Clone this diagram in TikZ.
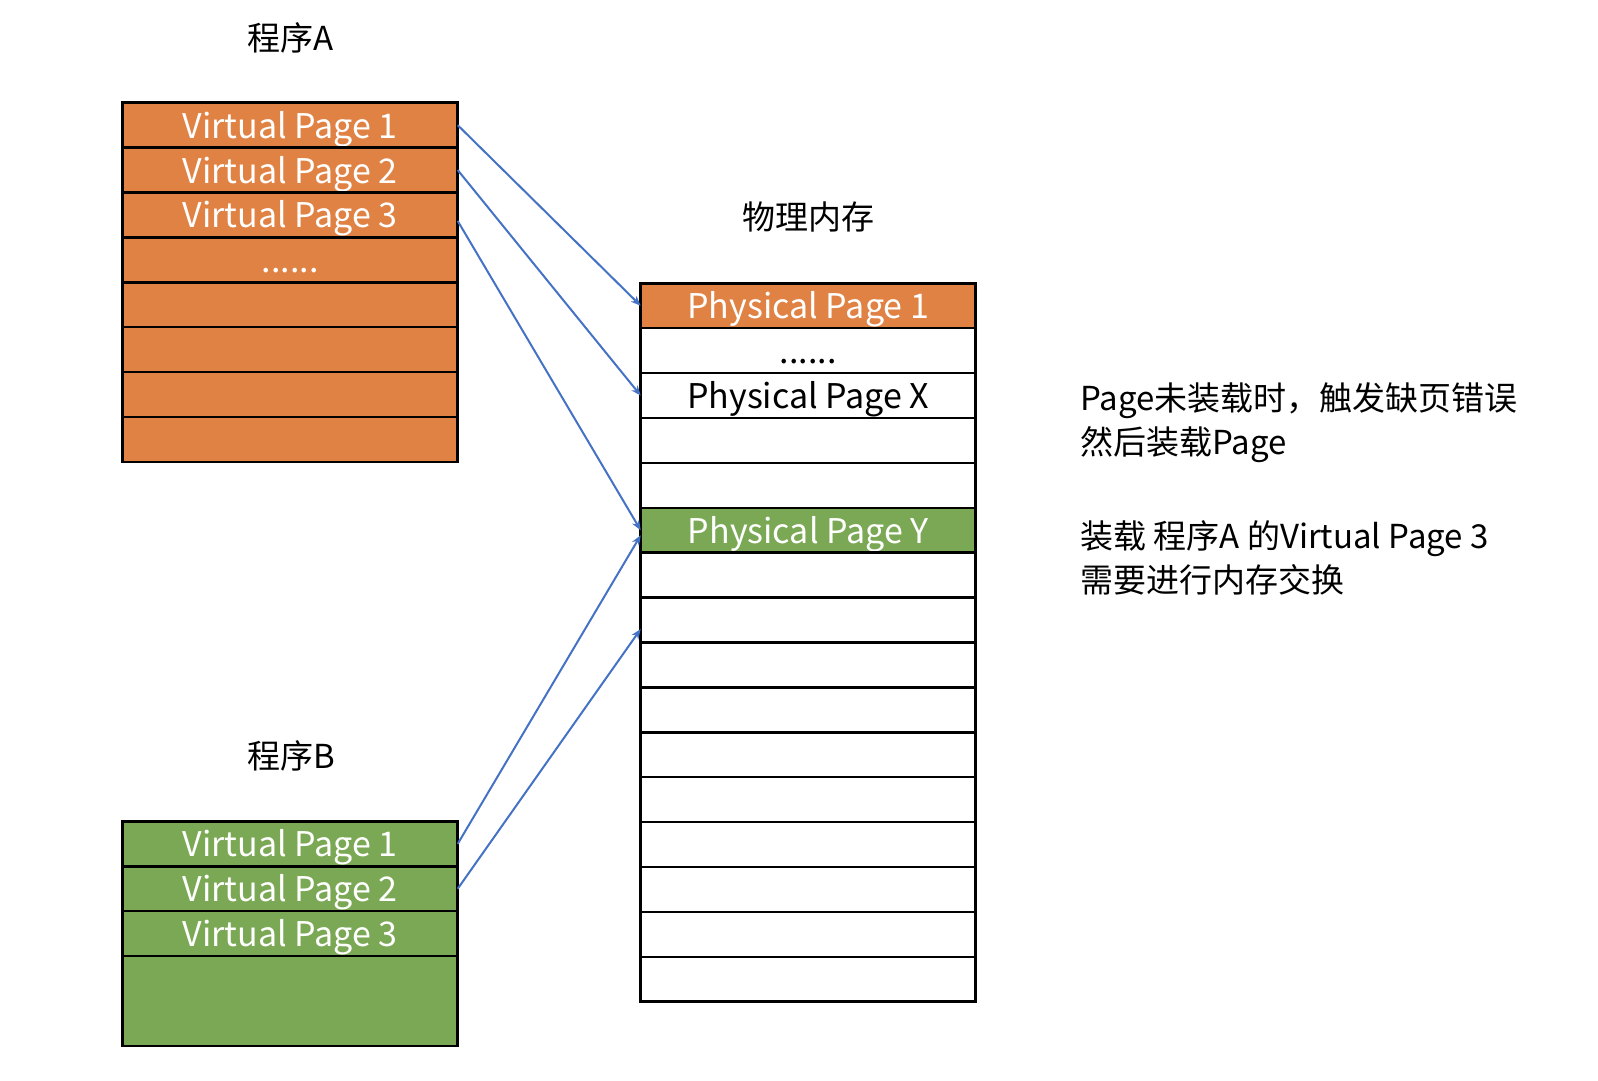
\documentclass[tikz,border=0pt]{standalone}
\usepackage{fontspec}
\setmainfont{Noto Sans CJK SC}
\usetikzlibrary{arrows.meta,calc}
\definecolor{pgorange}{HTML}{E08244}
\definecolor{pggreen}{HTML}{7BA854}
\definecolor{arrowblue}{HTML}{4472C4}
\newcommand{\mysixdots}{......}
\begin{document}
\begin{tikzpicture}[x=1pt,y=-1pt,
  rowbox/.style={draw=black, line width=2.5pt, minimum width=335pt, minimum height=44.9pt,
    inner sep=0pt, outer sep=0pt, anchor=north west, text height=29pt, text depth=3pt,
    font=\fontsize{34}{40}\selectfont},
  orangerow/.style={rowbox, fill=pgorange, text=white},
  greenrow/.style={rowbox, fill=pggreen, text=white},
  whiterow/.style={rowbox, fill=white, text=black},
  titlelabel/.style={font=\fontsize{33}{40}\selectfont, inner sep=0pt},
  notelabel/.style={font=\fontsize{33}{40}\selectfont, inner sep=0pt, anchor=base west},
  conn/.style={draw=arrowblue, line width=2pt, -{Stealth[length=10pt,width=8pt]}}]
\useasboundingbox (0,0) rectangle (1598,1080);
% Program A
\node[orangerow] (a1) at ({122.7},{102.7}) {Virtual Page 1};
\node[orangerow] (a2) at ({122.7},{102.7+1*44.9}) {Virtual Page 2};
\node[orangerow] (a3) at ({122.7},{102.7+2*44.9}) {Virtual Page 3};
\node[orangerow] (a4) at ({122.7},{102.7+3*44.9}) {\mysixdots};
\foreach \i in {5,6,7,8}{
  \node[orangerow] (a\i) at ({122.7},{102.7+(\i-1)*44.9}) {};
}
% Physical memory
\node[orangerow] (p1) at ({640.7},{283.3}) {Physical Page 1};
\node[whiterow] (p2) at ({640.7},{283.3+1*44.9}) {\mysixdots};
\node[whiterow] (p3) at ({640.7},{283.3+2*44.9}) {Physical Page X};
\node[whiterow] (p4) at ({640.7},{283.3+3*44.9}) {};
\node[whiterow] (p5) at ({640.7},{283.3+4*44.9}) {};
\node[greenrow] (p6) at ({640.7},{283.3+5*44.9}) {Physical Page Y};
\foreach \i in {7,8,9,10,11,12,13,14,15,16}{
  \node[whiterow] (p\i) at ({640.7},{283.3+(\i-1)*44.9}) {};
}
% Program B
\node[greenrow] (b1) at ({122.7},{821.4}) {Virtual Page 1};
\node[greenrow] (b2) at ({122.7},{821.4+1*44.9}) {Virtual Page 2};
\node[greenrow] (b3) at ({122.7},{821.4+2*44.9}) {Virtual Page 3};
\node[greenrow, minimum height=89.8pt] (b4) at ({122.7},{821.4+3*44.9}) {};
% Titles
\node[titlelabel] (progA) at (291,38) {程序A};
\node[titlelabel] (progB) at (291,756) {程序B};
\node[titlelabel] (mem) at (808,217) {物理内存};
% Notes
\node[notelabel] (n1) at (1080,410) {Page未装载时，触发缺页错误};
\node[notelabel] (n2) at (1080,454.8) {然后装载Page};
\node[notelabel] (n3) at (1080,548) {装载 程序A 的Virtual Page 3};
\node[notelabel] (n4) at (1080,592.8) {需要进行内存交换};
% Connectors
\draw[conn] (a1.east) -- (p1.west);
\draw[conn] (a2.east) -- (p3.west);
\draw[conn] ($(a3.east)+(0,6)$) -- (p6.west);
\draw[conn] (b1.east) -- ($(p6.west)+(0,5)$);
\draw[conn] (b2.east) -- ($(p8.west)+(0,9)$);
\end{tikzpicture}
\end{document}
